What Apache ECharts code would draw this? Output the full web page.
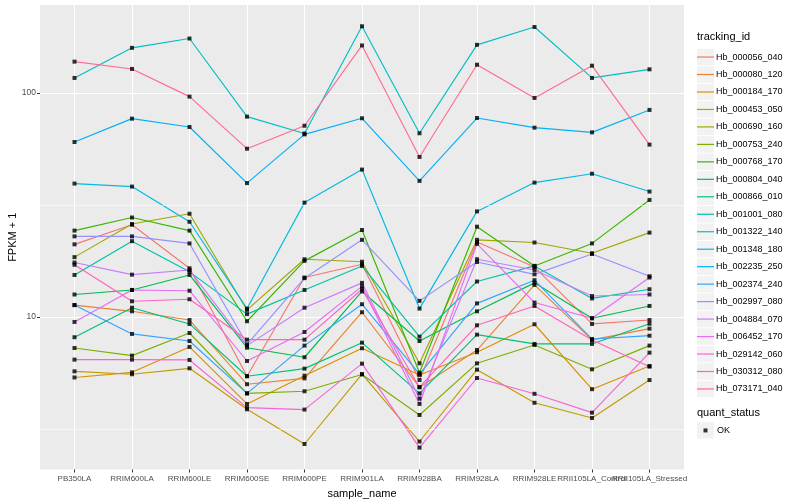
<!DOCTYPE html>
<html><head><meta charset="utf-8">
<script src="https://cdn.jsdelivr.net/npm/echarts/dist/echarts.min.js"></script>
<style>html,body{margin:0;padding:0;background:#fff}#c{width:800px;height:500px}</style>
</head><body><div id="c"></div>
<script>
const categories = ['PB350LA','RRIM600LA','RRIM600LE','RRIM600SE','RRIM600PE','RRIM901LA','RRIM928BA','RRIM928LA','RRIM928LE','RRII105LA_Control','RRII105LA_Stressed'];

const Hb_000056_040 = [21.1, 25.8, 16.5, 5.44, 15.0, 17.2, 5.23, 21.6, 16.7, 9.31, 9.69];
const Hb_000080_120 = [11.3, 10.6, 9.69, 5.01, 5.32, 10.5, 4.86, 7.12, 13.9, 7.90, 8.87];
const Hb_000184_170 = [5.37, 5.66, 7.35, 4.09, 5.47, 7.25, 5.51, 6.96, 9.28, 4.76, 6.04];
const Hb_000453_050 = [5.72, 5.55, 5.90, 3.87, 2.71, 5.56, 2.78, 5.82, 4.14, 3.54, 5.23];
const Hb_000690_160 = [18.5, 26.0, 28.9, 10.75, 18.1, 17.65, 6.21, 22.1, 21.5, 19.25, 23.8];
const Hb_000753_240 = [7.27, 6.72, 8.48, 4.56, 4.66, 5.54, 3.65, 6.21, 7.50, 5.84, 7.45];
const Hb_000768_170 = [24.3, 27.8, 24.3, 9.57, 17.8, 24.45, 5.64, 25.3, 16.9, 21.3, 33.3];
const Hb_000804_040 = [12.6, 13.2, 15.4, 7.29, 6.61, 13.0, 7.81, 10.6, 14.2, 9.87, 11.2];
const Hb_000866_010 = [8.12, 11.0, 9.31, 5.44, 5.88, 7.68, 4.56, 8.34, 7.58, 7.58, 9.33];
const Hb_001001_080 = [15.4, 21.8, 15.9, 10.3, 13.2, 16.9, 8.17, 14.4, 16.9, 12.1, 13.3];
const Hb_001322_140 = [116.7, 159, 175, 78.4, 65.9, 198.5, 66.1, 164, 197, 116.7, 127.5];
const Hb_001348_180 = [39.4, 38.2, 26.6, 10.9, 32.4, 45.5, 10.9, 29.6, 39.8, 43.6, 36.3];
const Hb_002235_250 = [60.4, 76.8, 70.5, 39.6, 65.3, 77.1, 40.5, 77.3, 70.0, 66.7, 84.0];
const Hb_002374_240 = [11.3, 8.40, 7.81, 4.56, 7.45, 11.4, 5.56, 11.5, 14.6, 7.97, 8.25];
const Hb_002997_080 = [22.9, 22.9, 21.3, 7.55, 14.9, 22.1, 11.8, 17.6, 15.5, 19.1, 15.2];
const Hb_004884_070 = [17.5, 15.45, 16.2, 7.45, 11.0, 14.2, 4.32, 18.1, 16.2, 12.4, 12.6];
const Hb_006452_170 = [9.50, 13.2, 13.1, 6.36, 8.57, 13.7, 4.09, 21.2, 11.6, 9.87, 15.0];
const Hb_029142_060 = [6.45, 6.45, 6.43, 3.94, 3.86, 6.19, 2.61, 5.34, 4.54, 3.74, 6.93];
const Hb_030312_080 = [17.1, 11.75, 12.0, 7.92, 7.92, 13.3, 4.86, 9.18, 11.2, 7.90, 6.00];
const Hb_073171_040 = [138, 128, 96.3, 56.4, 71.4, 163, 51.8, 133.7, 95, 132.4, 58.8];

const trackingIds = ['Hb_000056_040','Hb_000080_120','Hb_000184_170','Hb_000453_050','Hb_000690_160','Hb_000753_240','Hb_000768_170','Hb_000804_040','Hb_000866_010','Hb_001001_080','Hb_001322_140','Hb_001348_180','Hb_002235_250','Hb_002374_240','Hb_002997_080','Hb_004884_070','Hb_006452_170','Hb_029142_060','Hb_030312_080','Hb_073171_040'];
const seriesValues = [Hb_000056_040,Hb_000080_120,Hb_000184_170,Hb_000453_050,Hb_000690_160,Hb_000753_240,Hb_000768_170,Hb_000804_040,Hb_000866_010,Hb_001001_080,Hb_001322_140,Hb_001348_180,Hb_002235_250,Hb_002374_240,Hb_002997_080,Hb_004884_070,Hb_006452_170,Hb_029142_060,Hb_030312_080,Hb_073171_040];
const palette = ['#F8766D','#EA8331','#D89000','#C09B00','#A3A500','#7CAE00','#39B600','#00BB4E','#00BF7D','#00C1A3','#00BFC4','#00BAE0','#00B0F6','#35A2FF','#9590FF','#C77CFF','#E76BF3','#FA62DB','#FF62BC','#FF6C91'];
const quantStatus = ['OK'];
const yMajorTicks = [10, 100];
const yMinorTicks = [3.162, 31.62];
const yMin = 2.085, yMax = 247;

const FONT = '"Liberation Sans", Arial, Helvetica, sans-serif';
const P = {left: 40, top: 5, right: 684, bottom: 469.5};
const step = (P.right - P.left) / 11.2;
const x0 = P.left + 0.6 * step, x1 = P.right - 0.6 * step;

const chart = echarts.init(document.getElementById('c'));

const lineSeries = trackingIds.map((id, i) => ({
  name: id, type: 'line', xAxisIndex: 1, yAxisIndex: 1,
  data: seriesValues[i], color: palette[i],
  showSymbol: false, symbol: 'none', silent: true, z: 2,
  lineStyle: {width: 1.15, color: palette[i]},
  emphasis: {disabled: true}
}));

const pts = [];
seriesValues.forEach(arr => arr.forEach((v, j) => pts.push([j, v])));

const keyStep = 17.47, keyTop = 48.3;
const keyRects = [];
for (let i = 0; i < trackingIds.length; i++) {
  keyRects.push({type: 'rect', left: 697, top: keyTop + keyStep * i + 0.5, shape: {width: 17, height: 16.5}, style: {fill: '#F2F2F2'}, z: 0});
}
keyRects.push({type: 'rect', left: 697, top: 421.7 + 0.5, shape: {width: 17, height: 16.5}, style: {fill: '#F2F2F2'}, z: 0});
keyRects.push({type: 'text', left: 697, top: 31.5, style: {text: 'tracking_id', fontSize: 11, fill: '#000', fontFamily: FONT}, z: 5});
keyRects.push({type: 'text', left: 697, top: 407.5, style: {text: 'quant_status', fontSize: 11, fill: '#000', fontFamily: FONT}, z: 5});

const option = {
  animation: false,
  backgroundColor: '#fff',
  textStyle: {fontFamily: FONT},
  grid: [
    {left: P.left, top: P.top, width: P.right - P.left, height: P.bottom - P.top, show: true, backgroundColor: '#EBEBEB', borderWidth: 0, containLabel: false, outerBoundsMode: 'none'},
    {left: x0, top: P.top, width: x1 - x0, height: P.bottom - P.top, show: false, containLabel: false, outerBoundsMode: 'none'}
  ],
  xAxis: [
    {gridIndex: 0, type: 'value', min: 0, max: 1, show: false},
    {gridIndex: 1, type: 'category', data: categories, boundaryGap: false,
      axisLine: {show: false},
      axisTick: {show: true, length: 3, lineStyle: {color: '#333', width: 1}},
      axisLabel: {interval: 0, hideOverlap: false, fontSize: 8, color: '#4D4D4D', margin: 5},
      splitLine: {show: true, lineStyle: {color: '#fff', width: 1.1}},
      name: 'sample_name', nameLocation: 'middle', nameGap: 19, nameMoveOverlap: false,
      nameTextStyle: {fontSize: 11, color: '#000'}}
  ],
  yAxis: [
    {gridIndex: 0, type: 'log', logBase: 10, min: yMin, max: yMax,
      axisLine: {show: false},
      axisTick: {show: true, length: 3, lineStyle: {color: '#333'}, customValues: yMajorTicks},
      axisLabel: {fontSize: 8.5, color: '#4D4D4D', margin: 4, customValues: yMajorTicks,
        formatter: v => yMajorTicks.includes(Math.round(v)) ? String(Math.round(v)) : ''},
      splitLine: {show: true, lineStyle: {color: '#fff', width: 1.1}},
      name: 'FPKM + 1', nameLocation: 'middle', nameGap: 22, nameRotate: 90, nameMoveOverlap: false,
      nameTextStyle: {fontSize: 11, color: '#000'}},
    {gridIndex: 1, type: 'log', logBase: 10, min: yMin, max: yMax, show: false}
  ],
  legend: [
    {data: trackingIds, orient: 'vertical', left: 697, top: keyTop, padding: 0,
      itemWidth: 17, itemHeight: 1.2, itemGap: 0, icon: 'rect', selectedMode: false,
      textStyle: {fontSize: 9, color: '#000', lineHeight: keyStep, padding: [0, 0, 0, -3]}},
    {data: quantStatus, orient: 'vertical', left: 703.5, top: 421.7, padding: 0,
      itemWidth: 4, itemHeight: 4, icon: 'rect', selectedMode: false,
      textStyle: {fontSize: 9, color: '#000', lineHeight: keyStep, padding: [0, 0, 0, 4.5]}}
  ],
  graphic: keyRects,
  series: [
    {name: '_grid', type: 'line', xAxisIndex: 0, yAxisIndex: 0, data: [], silent: true,
      markLine: {silent: true, symbol: ['none', 'none'], label: {show: false},
        lineStyle: {color: '#fff', width: 0.55, type: 'solid'},
        data: yMinorTicks.map(v => ({yAxis: v}))}},
    ...lineSeries,
    {name: 'OK', type: 'scatter', xAxisIndex: 1, yAxisIndex: 1, data: pts,
      symbol: 'rect', symbolSize: 4, color: '#000', itemStyle: {color: '#000'}, silent: true, z: 3}
  ]
};
chart.setOption(option);
</script>
</body></html>
